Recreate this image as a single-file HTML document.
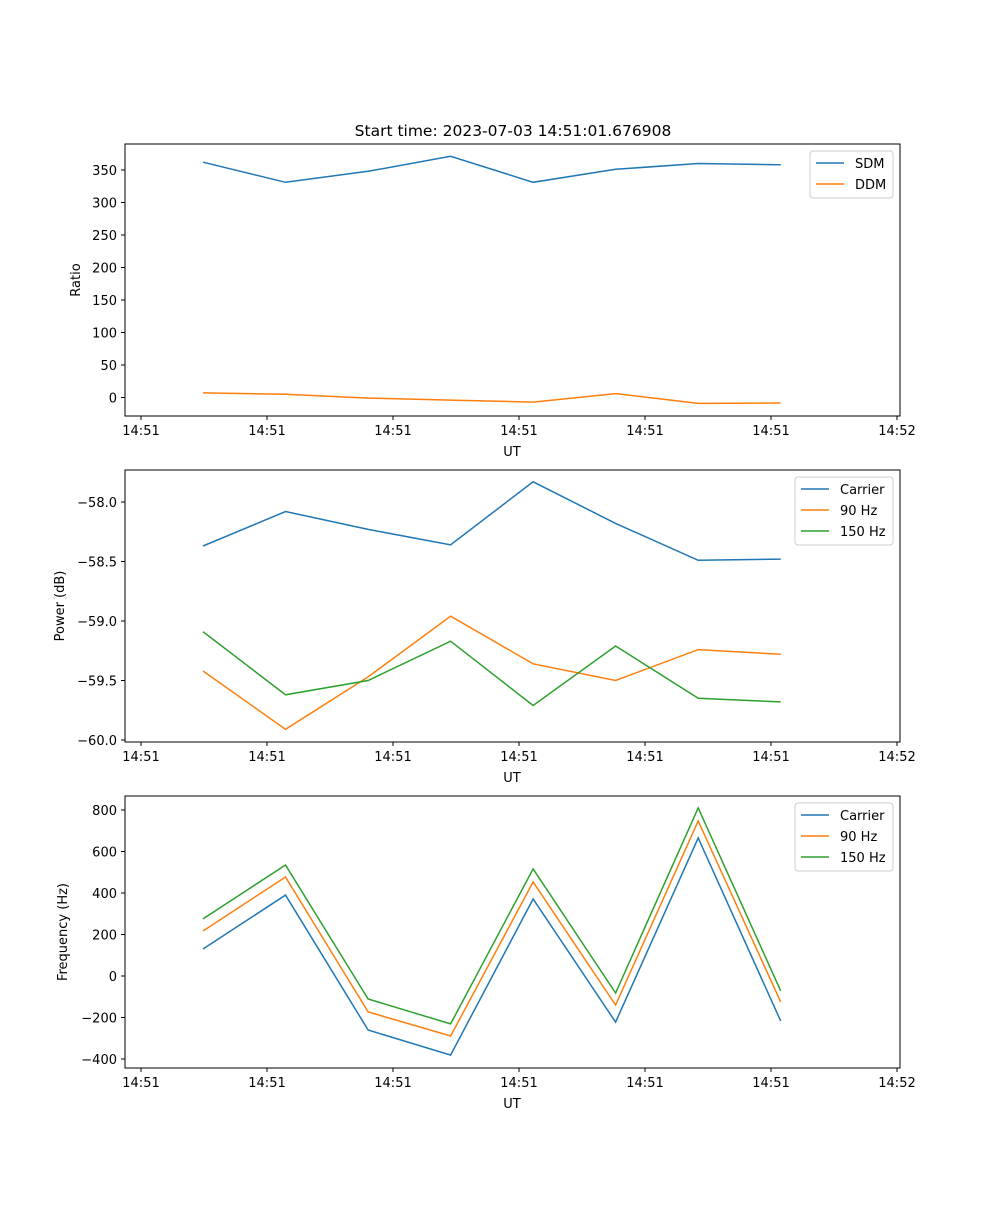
<!DOCTYPE html>
<html><head><meta charset="utf-8">
<style>
body{margin:0;background:#fff;}
svg text{font-family:"DejaVu Sans","Liberation Sans",sans-serif;font-size:13px;fill:#000;}
</style></head>
<body>
<svg id="fig" width="1000" height="1200" xmlns="http://www.w3.org/2000/svg">
<rect width="1000" height="1200" fill="#fff"/>
<text x="513" y="136" text-anchor="middle" style="font-size:15.5px">Start time: 2023-07-03 14:51:01.676908</text>
</svg>
<script>
// time positions in tick units
const times = [0.492, 1.147, 1.802, 2.457, 3.112, 3.767, 4.422, 5.077];
const xTickLabels = ["14:51","14:51","14:51","14:51","14:51","14:51","14:52"];
const xTickVals = [0,1,2,3,4,5,6];

const sdm = [362, 331, 348, 371, 331, 351, 360, 358];
const ddm = [7, 5, -1, -4, -7, 6, -9, -8.5];
const ratioTicks = [0,50,100,150,200,250,300,350];

const pwrCarrier = [-58.37, -58.08, -58.23, -58.36, -57.83, -58.18, -58.49, -58.48];
const pwr90 = [-59.42, -59.91, -59.47, -58.96, -59.36, -59.50, -59.24, -59.28];
const pwr150 = [-59.09, -59.62, -59.50, -59.17, -59.71, -59.21, -59.65, -59.68];
const pwrTicks = [-60.0,-59.5,-59.0,-58.5,-58.0];

const frqCarrier = [130, 390, -260, -381, 371, -222, 665, -217];
const frq90 = [217, 477, -173, -289, 453, -140, 747, -125];
const frq150 = [275, 535, -111, -231, 516, -82, 810, -72];
const frqTicks = [-400,-200,0,200,400,600,800];

const NS="http://www.w3.org/2000/svg";
const svg=document.getElementById('fig');
function mk(tag,attrs,parent){const e=document.createElementNS(NS,tag);for(const k in attrs)e.setAttribute(k,attrs[k]);(parent||svg).appendChild(e);return e;}
const xScale=u=>141+126*u;
const colors={blue:"#1f77b4",orange:"#ff7f0e",green:"#2ca02c"};

function panel(name,top,y0val,y0px,y1val,y1px,ticks,fmt,ylabel,ylabelX,series,legend){
  const g=mk('g',{});
  
  
  const bottom=top+272;
  const ys=v=>y0px+(v-y0val)*(y1px-y0px)/(y1val-y0val);
  series.forEach(s=>{
    const pts=s.vals.map((v,i)=>xScale(times[i]).toFixed(1)+','+ys(v).toFixed(1)).join(' ');
    const p=mk('polyline',{points:pts,fill:'none',stroke:s.color,'stroke-width':1.5},g);
    
    
  });
  const fr=mk('rect',{x:125,y:top,width:775,height:272,fill:'none',stroke:'#000','stroke-width':1},g);
  
  
  xTickVals.forEach((u,i)=>{
    const x=xScale(u);
    mk('line',{x1:x,x2:x,y1:bottom,y2:bottom+4,stroke:'#000'},g);
    const t=mk('text',{x:x,y:bottom+19,'text-anchor':'middle'},g);t.textContent=xTickLabels[i];
    
    
  });
  ticks.forEach(v=>{
    const y=ys(v);
    mk('line',{x1:121,x2:125,y1:y,y2:y,stroke:'#000'},g);
    const t=mk('text',{x:117,y:y+5,'text-anchor':'end'},g);t.textContent=fmt(v);
    
    
  });
  const xl=mk('text',{x:512,y:bottom+40,'text-anchor':'middle'},g);xl.textContent='UT';
  
  
  const cy=top+136;
  const yl=mk('text',{x:ylabelX,y:cy,'text-anchor':'middle',transform:`rotate(-90 ${ylabelX} ${cy})`},g);yl.textContent=ylabel;
  
  
  // legend
  const lg=mk('g',{},g);
  
  
  mk('rect',{x:legend.x,y:top+7,width:legend.w,height:series.length*21+5,rx:3,fill:'#fff',stroke:'#ccc'},lg);
  series.forEach((s,i)=>{
    const y=top+19+i*21;
    mk('line',{x1:legend.x+6,x2:legend.x+34,y1:y,y2:y,stroke:s.color,'stroke-width':1.5},lg);
    const t=mk('text',{x:legend.x+45,y:y+5},lg);t.textContent=s.label;
    
    
  });
}
const minus=s=>s.replace('-','\u2212');
panel('ratio',144,0,397.5,350,170,ratioTicks,v=>minus(String(v)),'Ratio',80,
  [{key:'sdm',label:'SDM',vals:sdm,color:colors.blue},{key:'ddm',label:'DDM',vals:ddm,color:colors.orange}],{x:810,w:83});
panel('power',470,-58,502,-60,740,pwrTicks,v=>minus(v.toFixed(1)),'Power (dB)',64,
  [{key:'carrier',label:'Carrier',vals:pwrCarrier,color:colors.blue},{key:'90hz',label:'90 Hz',vals:pwr90,color:colors.orange},{key:'150hz',label:'150 Hz',vals:pwr150,color:colors.green}],{x:795,w:98});
panel('frequency',796,0,976,800,810,frqTicks,v=>minus(String(v)),'Frequency (Hz)',67,
  [{key:'carrier',label:'Carrier',vals:frqCarrier,color:colors.blue},{key:'90hz',label:'90 Hz',vals:frq90,color:colors.orange},{key:'150hz',label:'150 Hz',vals:frq150,color:colors.green}],{x:795,w:98});
</script>
</body></html>
